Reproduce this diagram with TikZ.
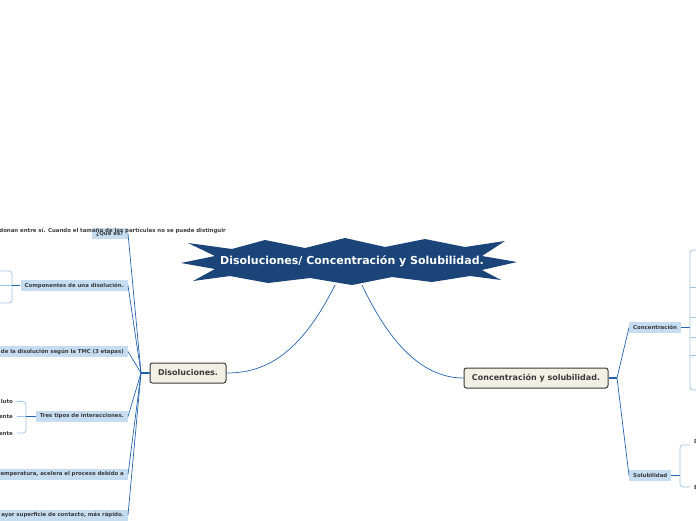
\documentclass[tikz,border=0pt]{standalone}
\usepackage{fontspec}
\setmainfont{DejaVu Sans}
\definecolor{starblue}{HTML}{1B4478}
\definecolor{lineblue}{HTML}{2462B0}
\definecolor{boxblue}{HTML}{C6DDF1}
\definecolor{brk}{HTML}{9EC3E6}
\definecolor{txt}{HTML}{3A3A3A}
\definecolor{cream}{HTML}{F2F0E4}
\tikzset{
  sub/.style={fill=boxblue, text=txt, font=\fontsize{5.4}{6.4}\selectfont\bfseries, inner xsep=4pt, inner ysep=0pt, minimum height=11pt},
  long/.style={sub, text width=132pt, align=right},
  plain/.style={text=txt, font=\fontsize{5.4}{6.4}\selectfont\bfseries, inner sep=0pt},
  topic/.style={draw=txt, line width=1pt, fill=cream, rounded corners=2.5pt, text=txt, font=\fontsize{8}{9}\selectfont\bfseries, minimum height=20pt, inner xsep=6pt},
  conn/.style={draw=lineblue, line width=0.7pt},
  thick conn/.style={draw=lineblue, line width=1.6pt},
  bracket/.style={draw=brk, line width=0.7pt, rounded corners=3pt},
}
\begin{document}
\begin{tikzpicture}[x=1pt,y=-1pt]
\useasboundingbox (0,0) rectangle (696,520);
\clip (0,0) rectangle (696,520);
% central star
\fill[starblue] (188,243) -- (232,249) -- (265,240) -- (305,248) -- (345,238) -- (385,247) -- (425,239) -- (465,247) -- (505,241) -- (482,256) -- (517,262) -- (482,270) -- (501,280) -- (470,276) -- (432,282) -- (392,277) -- (352,285) -- (310,278) -- (268,283) -- (230,276) -- (193,281) -- (215,269) -- (181,263) -- (215,256) -- cycle;
\node[text=white, font=\fontsize{11}{13}\selectfont\bfseries] (title) at (352,261) {Disoluciones/ Concentración y Solubilidad.};
\coordinate (sL) at (335,285);
\coordinate (sR) at (362,285);
% main topics
\node[topic, minimum width=76pt] (dis) at (188,373) {Disoluciones.};
\node[topic, minimum width=144pt] (con) at (536,378) {Concentración y solubilidad.};
\draw[conn] (sL) .. controls (300,355) and (265,373) .. (dis.east);
\draw[conn] (sR) .. controls (395,355) and (430,378) .. (con.west);
% left junction
\coordinate (jL) at (141,373);
\draw[thick conn] (dis.west) -- (jL);
% left subtopics
\node[sub, anchor=east, minimum width=36pt] (q) at (128,233.5) {¿Qué es?};
\node[plain, anchor=east] (qtext) at (226,231) {donan entre sí. Cuando el tamaño de las partículas no se puede distinguir};
\node[sub, anchor=east] (comp) at (128,285.5) {Componentes de una disolución.};
\node[long, anchor=east] (tmc) at (128,351.5) {de la disolución según la TMC (3 etapas)};
\node[sub, anchor=east] (tres) at (128,416.5) {Tres tipos de interacciones.};
\node[long, anchor=east] (temp) at (128,474.5) {temperatura, acelera el proceso debido a};
\node[long, anchor=east] (sup) at (128,515) {ayor superficie de contacto, más rápido.};
\foreach \n in {q,comp,tmc,tres,temp,sup}{
  \draw[conn] (jL) -- (\n.east);
}
% componentes bracket
\coordinate (cb) at (12,285.5);
\draw[bracket] (0,271) -- (12,271) -- (12,303) -- (0,303);
\draw[bracket] (0,285.5) -- (cb);
\draw[thick conn, line width=1pt] (cb) -- (comp.west);
% tres tipos bracket
\coordinate (tb) at (26,416.5);
\draw[bracket] (17,401.5) -- (26,401.5) -- (26,433) -- (17,433);
\draw[bracket] (17,416.5) -- (tb);
\draw[thick conn, line width=1pt] (tb) -- (tres.west);
\node[plain, anchor=east] (t1) at (13,401) {luto};
\node[plain, anchor=east] (t2) at (13,417) {ente};
\node[plain, anchor=east] (t3) at (13,434) {ente};
% right junction
\coordinate (jR) at (617,378);
\draw[thick conn] (con.east) -- (jR);
\node[sub, anchor=west] (conc) at (629,327.5) {Concentración};
\node[sub, anchor=west] (sol) at (629,475.5) {Solubilidad};
\draw[conn] (jR) -- (conc.west);
\draw[conn] (jR) -- (sol.west);
% concentracion bracket
\coordinate (ccb) at (690,327.5);
\draw[thick conn, line width=1.6pt] (conc.east) -- (ccb);
\draw[bracket] (697,250) -- (690,250) -- (690,390) -- (697,390);
\foreach \yy in {287,317,337,355}{
  \draw[bracket] (690,\yy) -- (697,\yy);
}
% solubilidad bracket
\coordinate (sb) at (680,475.5);
\draw[thick conn, line width=1pt] (sol.east) -- (sb);
\draw[bracket] (690,445) -- (680,445) -- (680,487) -- (690,487);
\node[plain, anchor=west] (s1) at (694,442) {D};
\node[plain, anchor=west] (s2) at (694,488) {E};
\end{tikzpicture}
\end{document}
